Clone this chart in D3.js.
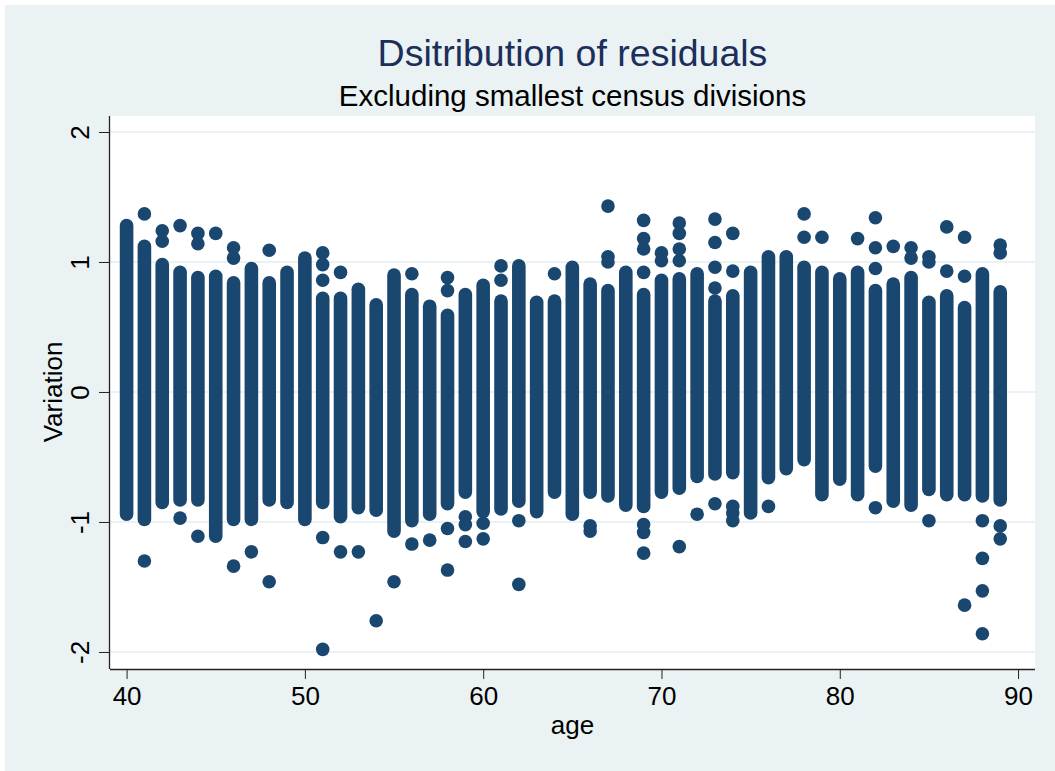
<!DOCTYPE html>
<html>
<head>
<meta charset="utf-8">
<script src="https://cdn.jsdelivr.net/npm/d3@7"></script>
<style>
  html, body { margin: 0; padding: 0; background: #ffffff; }
  svg { display: block; }
  text { font-family: "Liberation Sans", Arial, Helvetica, sans-serif; }
</style>
</head>
<body>
<svg id="chart" width="1055" height="771"></svg>
<script>
'use strict';

/* ─────────────────────────────────────────────────────────────────
   Residuals by age — Stata-style scatter (s2color look)
   Each age has a dense column of overlapping markers (band) plus a
   handful of stray markers (outliers) above / below it.
   ───────────────────────────────────────────────────────────────── */

const BG     = '#eaf2f3';   // graph region
const GRID   = '#eaf2f3';
const MARKER = '#1a476f';   // stata navy
const TITLE  = '#1c2e5a';

// one entry per age
const ages = [40, 41, 42, 43, 44, 45, 46, 47, 48, 49,
              50, 51, 52, 53, 54, 55, 56, 57, 58, 59,
              60, 61, 62, 63, 64, 65, 66, 67, 68, 69,
              70, 71, 72, 73, 74, 75, 76, 77, 78, 79,
              80, 81, 82, 83, 84, 85, 86, 87, 88, 89];

// top of the dense column of residuals (marker centres)
const bandHi = [1.28, 1.12, 0.98, 0.92, 0.88, 0.89, 0.84, 0.95, 0.84, 0.92,
                1.03, 0.72, 0.72, 0.79, 0.67, 0.90, 0.75, 0.66, 0.59, 0.75,
                0.82, 0.70, 0.97, 0.69, 0.70, 0.96, 0.83, 0.78, 0.92, 0.75,
                0.86, 0.87, 0.91, 0.70, 0.74, 0.92, 1.04, 1.04, 0.96, 0.92,
                0.87, 0.92, 0.78, 0.83, 0.88, 0.69, 0.74, 0.65, 0.91, 0.77];

// bottom of the dense column
const bandLo = [-0.94, -0.98, -0.85, -0.83, -0.83, -1.11, -0.98, -0.98, -0.83, -0.85,
                -0.98, -0.85, -0.96, -0.89, -0.91, -1.07, -0.99, -0.94, -0.86, -0.77,
                -0.92, -0.90, -0.84, -0.92, -0.77, -0.94, -0.77, -0.80, -0.87, -0.88,
                -0.77, -0.74, -0.65, -0.63, -0.62, -0.93, -0.66, -0.59, -0.52, -0.79,
                -0.67, -0.79, -0.57, -0.84, -0.87, -0.75, -0.79, -0.79, -0.80, -0.83];

// isolated markers (age, residual)
const outAge = [41, 41, 42, 42, 43, 43, 44, 44, 44, 45,
                46, 46, 46, 47, 48, 48, 51, 51, 51, 51,
                51, 52, 52, 53, 54, 55, 56, 56, 57, 58,
                58, 58, 58, 59, 59, 59, 60, 60, 61, 61,
                62, 62, 64, 66, 66, 67, 67, 67, 69, 69,
                69, 69, 69, 69, 69, 70, 70, 71, 71, 71,
                71, 71, 72, 73, 73, 73, 73, 73, 74, 74,
                74, 74, 74, 76, 78, 78, 79, 81, 82, 82,
                82, 82, 83, 84, 84, 85, 85, 85, 86, 86,
                87, 87, 87, 88, 88, 88, 88, 89, 89, 89,
                89];
const outVal = [1.37, -1.30, 1.24, 1.16, 1.28, -0.97, 1.22, 1.14, -1.11, 1.22,
                1.11, 1.03, -1.34, -1.23, 1.09, -1.46, 1.07, 0.98, 0.86, -1.12,
                -1.98, 0.92, -1.23, -1.23, -1.76, -1.46, 0.91, -1.17, -1.14, 0.88,
                0.78, -1.05, -1.37, -0.96, -1.02, -1.15, -1.01, -1.13, 0.97, 0.86,
                -0.99, -1.48, 0.91, -1.03, -1.07, 1.43, 1.04, 1.00, 1.32, 1.18,
                1.10, 0.92, -1.02, -1.08, -1.24, 1.07, 1.01, 1.30, 1.22, 1.10,
                1.01, -1.19, -0.94, 1.33, 1.15, 0.96, 0.80, -0.86, 1.22, 0.93,
                -0.88, -0.93, -0.99, -0.88, 1.37, 1.19, 1.19, 1.18, 1.34, 1.11,
                0.95, -0.89, 1.12, 1.11, 1.03, 1.04, 1.00, -0.99, 1.27, 0.93,
                1.19, 0.89, -1.64, -0.99, -1.28, -1.53, -1.86, 1.13, 1.07, -1.03,
                -1.13];

const xTicks = [40, 50, 60, 70, 80, 90];
const yTicks = [-2, -1, 0, 1, 2];

/* ── layout ─────────────────────────────────────────────────── */
const W = 1055, H = 771;
const plot = { left: 110, right: 1035, top: 116, bottom: 669 };
const R = 6.8;   // marker radius

const svg = d3.select('#chart');

svg.append('rect')
  .attr('x', 5).attr('y', 5)
  .attr('width', W - 5).attr('height', H - 5)
  .attr('fill', BG);

svg.append('rect')
  .attr('x', plot.left).attr('y', plot.top)
  .attr('width', plot.right - plot.left).attr('height', plot.bottom - plot.top)
  .attr('fill', '#ffffff');

const x = d3.scaleLinear().domain([39.07, 90.95]).range([plot.left, plot.right]);
const y = d3.scaleLinear().domain([-2.131, 2.123]).range([plot.bottom, plot.top]);

// gridlines
svg.append('g')
  .selectAll('line')
  .data(yTicks)
  .join('line')
  .attr('x1', plot.left).attr('x2', plot.right)
  .attr('y1', d => y(d)).attr('y2', d => y(d))
  .attr('stroke', GRID).attr('stroke-width', 2);

/* ── markers ────────────────────────────────────────────────── */
const bands = ages.map((a, i) => ({ age: a, lo: bandLo[i], hi: bandHi[i] }));
const outliers = outAge.map((a, i) => ({ age: a, v: outVal[i] }));

// a dense column of overlapping circles reads as a pill shape
svg.append('g')
  .selectAll('rect')
  .data(bands)
  .join('rect')
  .attr('x', d => x(d.age) - R)
  .attr('y', d => y(d.hi) - R)
  .attr('width', 2 * R)
  .attr('height', d => y(d.lo) - y(d.hi) + 2 * R)
  .attr('rx', R).attr('ry', R)
  .attr('fill', MARKER);

svg.append('g')
  .selectAll('circle')
  .data(outliers)
  .join('circle')
  .attr('cx', d => x(d.age))
  .attr('cy', d => y(d.v))
  .attr('r', R)
  .attr('fill', MARKER);

/* ── axes ───────────────────────────────────────────────────── */
const xAxis = svg.append('g')
  .attr('transform', `translate(0,${plot.bottom})`)
  .call(d3.axisBottom(x).tickValues(xTicks).tickSize(10).tickPadding(8)
    .tickFormat(d => String(d)));
xAxis.select('.domain').attr('stroke', '#222').attr('stroke-width', 1.3)
  .attr('d', `M${plot.left},0.5H${plot.right}`);
xAxis.selectAll('.tick line').attr('stroke', '#222');
xAxis.selectAll('.tick text')
  .attr('font-size', 26).attr('fill', '#000')
  .attr('font-family', '"Liberation Sans", Arial, sans-serif');

const yAxis = svg.append('g')
  .attr('transform', `translate(${plot.left},0)`)
  .call(d3.axisLeft(y).tickValues(yTicks).tickSize(11).tickFormat(d => String(d)));
yAxis.select('.domain').attr('stroke', '#222').attr('stroke-width', 1.3)
  .attr('d', `M-0.5,${plot.top}V${plot.bottom}`);
yAxis.selectAll('.tick line').attr('stroke', '#222');
// stata prints y labels turned on their side
yAxis.selectAll('.tick text')
  .attr('x', null).attr('dy', null)
  .attr('transform', 'translate(-21,0) rotate(-90)')
  .attr('text-anchor', 'middle')
  .attr('font-size', 26).attr('fill', '#000')
  .attr('font-family', '"Liberation Sans", Arial, sans-serif');

/* ── titles ─────────────────────────────────────────────────── */
const midX = (plot.left + plot.right) / 2;

svg.append('text')
  .attr('x', midX).attr('y', 66)
  .attr('text-anchor', 'middle')
  .attr('font-size', 37.5).attr('fill', TITLE)
  .text('Dsitribution of residuals');

svg.append('text')
  .attr('x', midX).attr('y', 106)
  .attr('text-anchor', 'middle')
  .attr('font-size', 29.5).attr('fill', '#000')
  .text('Excluding smallest census divisions');

svg.append('text')
  .attr('x', midX).attr('y', 734)
  .attr('text-anchor', 'middle')
  .attr('font-size', 26).attr('fill', '#000')
  .text('age');

svg.append('text')
  .attr('transform', `translate(62,${y(0)}) rotate(-90)`)
  .attr('text-anchor', 'middle')
  .attr('font-size', 26).attr('fill', '#000')
  .text('Variation');
</script>
</body>
</html>
